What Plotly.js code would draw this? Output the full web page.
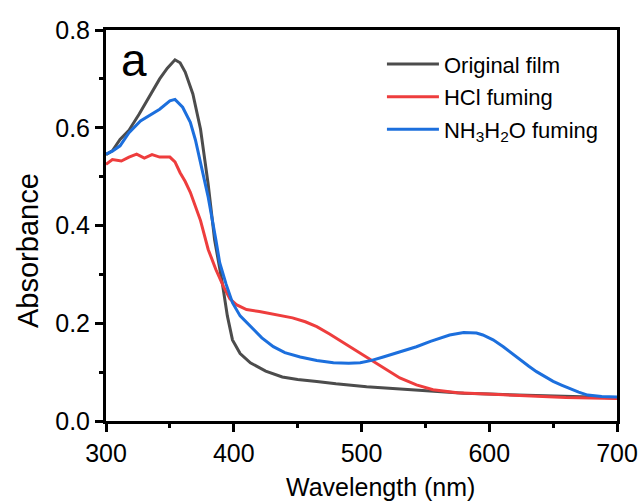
<!DOCTYPE html>
<html>
<head>
<meta charset="utf-8">
<script src="https://cdn.plot.ly/plotly-3.0.1.min.js"></script>
<style>
  html, body { margin: 0; padding: 0; background: #fff; }
  #chart { width: 643px; height: 504px; }
</style>
</head>
<body>
<div id="chart"></div>
<script>
// UV-Vis absorption spectra of the film before and after acid / base fuming

const originalX = [300, 305, 311, 318, 326, 334, 342, 348, 354, 358, 362, 368, 374, 380, 385, 391, 395, 399, 405, 413, 425, 438, 450, 465, 480, 504, 520, 543, 560, 580, 600, 632, 660, 680, 700];
const originalY = [0.545, 0.553, 0.576, 0.595, 0.628, 0.665, 0.700, 0.722, 0.739, 0.733, 0.714, 0.669, 0.597, 0.484, 0.371, 0.283, 0.215, 0.166, 0.138, 0.119, 0.102, 0.090, 0.085, 0.081, 0.076, 0.070, 0.067, 0.064, 0.060, 0.057, 0.055, 0.053, 0.051, 0.049, 0.047];

const hclX = [300, 305, 312, 318, 324, 330, 336, 342, 350, 354, 358, 362, 366, 370, 374, 380, 386, 392, 397, 402, 410, 420, 433, 446, 456, 465, 475, 486, 496, 507, 518, 530, 543, 556, 575, 600, 632, 660, 680, 700];
const hclY = [0.525, 0.535, 0.532, 0.540, 0.546, 0.538, 0.545, 0.540, 0.540, 0.530, 0.508, 0.490, 0.468, 0.440, 0.410, 0.351, 0.310, 0.275, 0.250, 0.238, 0.228, 0.224, 0.218, 0.211, 0.203, 0.193, 0.178, 0.160, 0.143, 0.125, 0.106, 0.088, 0.074, 0.064, 0.058, 0.055, 0.050, 0.048, 0.047, 0.046];

const ammoniaX = [300, 305, 311, 318, 327, 335, 342, 350, 354, 360, 366, 370, 374, 380, 386, 389, 394, 399, 405, 413, 422, 431, 440, 452, 465, 478, 490, 499, 508, 517, 530, 543, 554, 569, 580, 590, 595, 603, 611, 618, 624, 631, 637, 644, 650, 657, 663, 670, 677, 688, 700];
const ammoniaY = [0.546, 0.552, 0.563, 0.590, 0.614, 0.626, 0.638, 0.655, 0.658, 0.642, 0.611, 0.575, 0.529, 0.458, 0.371, 0.324, 0.280, 0.242, 0.215, 0.193, 0.170, 0.152, 0.140, 0.131, 0.124, 0.119, 0.118, 0.119, 0.124, 0.131, 0.141, 0.152, 0.163, 0.176, 0.181, 0.180, 0.176, 0.166, 0.152, 0.138, 0.125, 0.112, 0.101, 0.090, 0.081, 0.073, 0.066, 0.059, 0.053, 0.050, 0.049];

const seriesNames = ['Original film', 'HCl fuming', 'NH<sub>3</sub>H<sub>2</sub>O fuming'];
const seriesColors = ['#4c4c4c', '#ee3d3d', '#1c6fdd'];

const xTickVals = [300, 400, 500, 600, 700];
const yTickVals = [0.0, 0.2, 0.4, 0.6, 0.8];

const font = 'Liberation Sans, Arial, sans-serif';

const xs = [originalX, hclX, ammoniaX];
const ys = [originalY, hclY, ammoniaY];

const traces = xs.map((x, i) => ({
  type: 'scatter',
  mode: 'lines',
  x: x,
  y: ys[i],
  name: seriesNames[i],
  legendgroup: 'g' + i,
  line: { color: seriesColors[i], width: 3 }
}));

const axisCommon = {
  showgrid: false,
  zeroline: false,
  showline: true,
  linecolor: '#000',
  linewidth: 3,
  mirror: true,
  ticks: 'outside',
  ticklen: 8,
  tickwidth: 3,
  tickcolor: '#000',
  tickfont: { family: font, size: 25, color: '#000' }
};

const layout = {
  width: 643,
  height: 504,
  margin: { l: 106, r: 26, t: 30, b: 83 },
  paper_bgcolor: '#fff',
  plot_bgcolor: '#fff',
  showlegend: true,
  legend: {
    x: 0.54, y: 0.966, xanchor: 'left', yanchor: 'top',
    bgcolor: 'rgba(0,0,0,0)',
    font: { family: font, size: 22, color: '#000' },
    tracegroupgap: 1,
    itemwidth: 52
  },
  xaxis: Object.assign({}, axisCommon, {
    range: [300, 700],
    tickvals: xTickVals,
    ticktext: xTickVals.map(String),
    minor: { dtick: 50, tick0: 300, ticks: 'outside', ticklen: 4, tickwidth: 3, tickcolor: '#000' }
  }),
  yaxis: Object.assign({}, axisCommon, {
    range: [0, 0.8],
    tickvals: yTickVals,
    ticktext: yTickVals.map(v => v.toFixed(1)),
    minor: { dtick: 0.1, tick0: 0, ticks: 'outside', ticklen: 4, tickwidth: 3, tickcolor: '#000' }
  }),
  annotations: [
    {
      text: 'Wavelength (nm)', xref: 'paper', yref: 'paper',
      x: (380 - 106) / 511, y: -(487 - 421) / 391, xanchor: 'center', yanchor: 'middle',
      showarrow: false, font: { family: font, size: 25, color: '#000' }
    },
    {
      text: 'Absorbance', xref: 'paper', yref: 'paper',
      x: (28 - 106) / 511, y: (421 - 251) / 391, xanchor: 'center', yanchor: 'middle', textangle: -90,
      showarrow: false, font: { family: font, size: 29, color: '#000' }
    },
    {
      text: 'a', xref: 'paper', yref: 'paper',
      x: (134 - 106) / 511, y: (421 - 60) / 391, xanchor: 'center', yanchor: 'middle',
      showarrow: false, font: { family: font, size: 46, color: '#000' }
    }
  ]
};

Plotly.newPlot('chart', traces, layout, { displayModeBar: false, staticPlot: true });
</script>
</body>
</html>
